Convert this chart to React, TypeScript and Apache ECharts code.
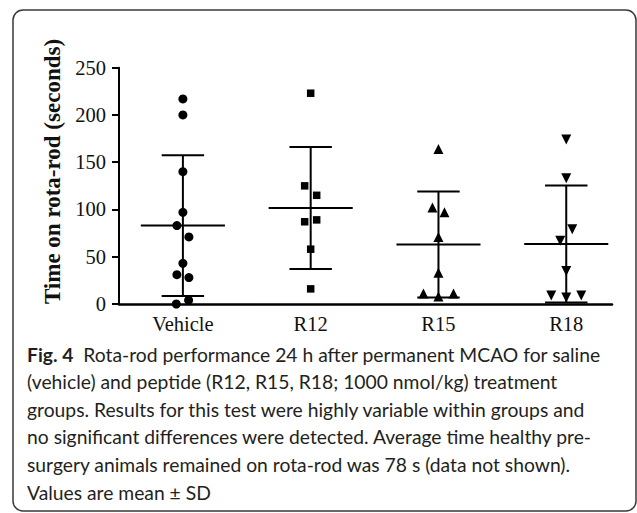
import React, { useEffect, useRef } from "react";
import * as echarts from "echarts";

const categories = ["Vehicle", "R12", "R15", "R18"];
const vehicleValues = [217, 200, 140, 97, 83, 71, 43, 31, 28, 0, 4];
const r12Values = [223, 125, 115, 87, 89, 58, 16];
const r15Values = [164, 102, 97, 71, 33, 11, 8, 11];
const r18Values = [174, 133, 79, 67, 35, 9, 7, 9];
// horizontal spread slot of each point inside its column (beeswarm side)
const vehicleSlot = [0, 0, 0, 0, -1, 1, 0, -1, 1, -1.1, 0.95];
const r12Slot = [0, -1, 1, -1, 1, 0, 0];
const r15Slot = [0, -1, 1, 0, 0, -2.5, 0, 2.5];
const r18Slot = [0, 0, 1, -1, 0, -2.5, 0, 2.5];
const groupMeans = [83, 101.5, 63, 63.5];
const groupSDs = [74.5, 64.5, 56, 62];
const yTicks = [0, 50, 100, 150, 200, 250];
const yTitle = "Time on rota-rod (seconds)";
const captionBold = "Fig. 4";
const captionLines = [
  "  Rota-rod performance 24 h after permanent MCAO for saline",
  "(vehicle) and peptide (R12, R15, R18; 1000 nmol/kg) treatment",
  "groups. Results for this test were highly variable within groups and",
  "no significant differences were detected. Average time healthy pre-",
  "surgery animals remained on rota-rod was 78 s (data not shown).",
  "Values are mean \u00b1 SD",
];

const SLOT = 0.047;
const SERIF = "'Liberation Serif', 'Times New Roman', serif";
const SANS = "Lato, 'Noto Sans', sans-serif";
const CAP_SIZE = 19.3;

function pts(vals: number[], slots: number[], gi: number) {
  return vals.map((v, i) => [gi + slots[i] * SLOT, v]);
}

export default function App() {
  const ref = useRef<HTMLDivElement>(null);
  useEffect(() => {
    if (!ref.current) return;
    const chart = echarts.init(ref.current, null, { renderer: "svg" });
    const groups = [
      { vals: vehicleValues, slots: vehicleSlot, symbol: "circle", size: 9, rot: 0 },
      { vals: r12Values, slots: r12Slot, symbol: "rect", size: 7.5, rot: 0 },
      { vals: r15Values, slots: r15Slot, symbol: "triangle", size: 10, rot: 0 },
      { vals: r18Values, slots: r18Slot, symbol: "triangle", size: 10, rot: 180 },
    ];
    const scatterSeries = groups.map((g, gi) => ({
      type: "scatter",
      name: categories[gi],
      data: pts(g.vals, g.slots, gi),
      symbol: g.symbol,
      symbolSize: g.size,
      symbolRotate: g.rot,
      itemStyle: { color: "#000", opacity: 1 },
      z: 5,
      silent: true,
    }));
    const errData = groupMeans.map((m, i) => [i, m, groupSDs[i]]);
    const option: any = {
      animation: false,
      backgroundColor: "#fff",
      grid: { left: 119, right: 25, top: 67.7, bottom: 209, containLabel: false },
      xAxis: {
        type: "value",
        min: -0.5,
        max: 3.358,
        axisLine: { show: true, onZero: false, lineStyle: { color: "#000", width: 2.5 } },
        axisTick: { show: false },
        splitLine: { show: false },
        axisLabel: {
          customValues: [0, 1, 2, 3],
          formatter: (v: number) => categories[Math.round(v)] ?? "",
          color: "#111",
          fontFamily: SERIF,
          fontSize: 20.5,
          margin: 9,
        },
      },
      yAxis: {
        type: "value",
        min: 0,
        max: 250,
        interval: 50,
        axisLine: { show: true, onZero: false, lineStyle: { color: "#000", width: 2 } },
        axisTick: { show: true, length: 7, lineStyle: { color: "#000", width: 2 } },
        splitLine: { show: false },
        axisLabel: {
          color: "#111",
          fontFamily: SERIF,
          fontSize: 20.5,
          margin: 13,
          formatter: (v: number) => (yTicks.includes(v) ? String(v) : ""),
        },
      },
      series: [
        {
          type: "custom",
          data: errData,
          z: 3,
          silent: true,
          renderItem: (params: any, api: any) => {
            const gi = api.value(0);
            const m = api.value(1);
            const sd = api.value(2);
            const lo = Math.max(0, m - sd);
            const hi = m + sd;
            const style = { stroke: "#000", lineWidth: 2 };
            const a = api.coord([gi - 0.329, m]);
            const b = api.coord([gi + 0.329, m]);
            const t = api.coord([gi, hi]);
            const bt = api.coord([gi, lo]);
            const cl = api.coord([gi - 0.166, hi]);
            const cr = api.coord([gi + 0.166, hi]);
            const dl = api.coord([gi - 0.166, lo]);
            const dr = api.coord([gi + 0.166, lo]);
            return {
              type: "group",
              children: [
                { type: "line", shape: { x1: a[0], y1: a[1], x2: b[0], y2: b[1] }, style },
                { type: "line", shape: { x1: t[0], y1: t[1], x2: bt[0], y2: bt[1] }, style },
                { type: "line", shape: { x1: cl[0], y1: cl[1], x2: cr[0], y2: cr[1] }, style },
                { type: "line", shape: { x1: dl[0], y1: dl[1], x2: dr[0], y2: dr[1] }, style },
              ],
            };
          },
        },
        ...scatterSeries,
      ],
      graphic: [
        {
          type: "rect",
          shape: { x: 13, y: 10, width: 623, height: 501, r: 10 },
          style: { fill: "none", stroke: "#3a3a3a", lineWidth: 1.5 },
          z: 0,
          silent: true,
        },
        {
          type: "text",
          x: 52,
          y: 171.5,
          rotation: Math.PI / 2,
          style: {
            text: yTitle,
            fontFamily: SERIF,
            fontWeight: "bold",
            fontSize: 23,
            fill: "#111",
            align: "center",
            verticalAlign: "middle",
          },
          silent: true,
        },
        ...captionLines.map((line, i) => ({
          type: "text",
          x: 27,
          y: 354 + 27.6 * i,
          style: {
            text: i === 0 ? `{b|${captionBold}}{n|${line}}` : line,
            fontFamily: SANS,
            fontSize: CAP_SIZE,
            fill: "#231f20",
            align: "left",
            verticalAlign: "middle",
            rich: {
              b: { fontFamily: SANS, fontSize: CAP_SIZE, fontWeight: "bold", fill: "#231f20" },
              n: { fontFamily: SANS, fontSize: CAP_SIZE, fontWeight: "normal", fill: "#231f20" },
            },
          },
          silent: true,
        })),
      ],
    };
    chart.setOption(option);
    return () => chart.dispose();
  }, []);
  return (
    <div
      ref={ref}
      style={{ position: "fixed", left: 0, top: 0, width: 637, height: 513 }}
    />
  );
}
